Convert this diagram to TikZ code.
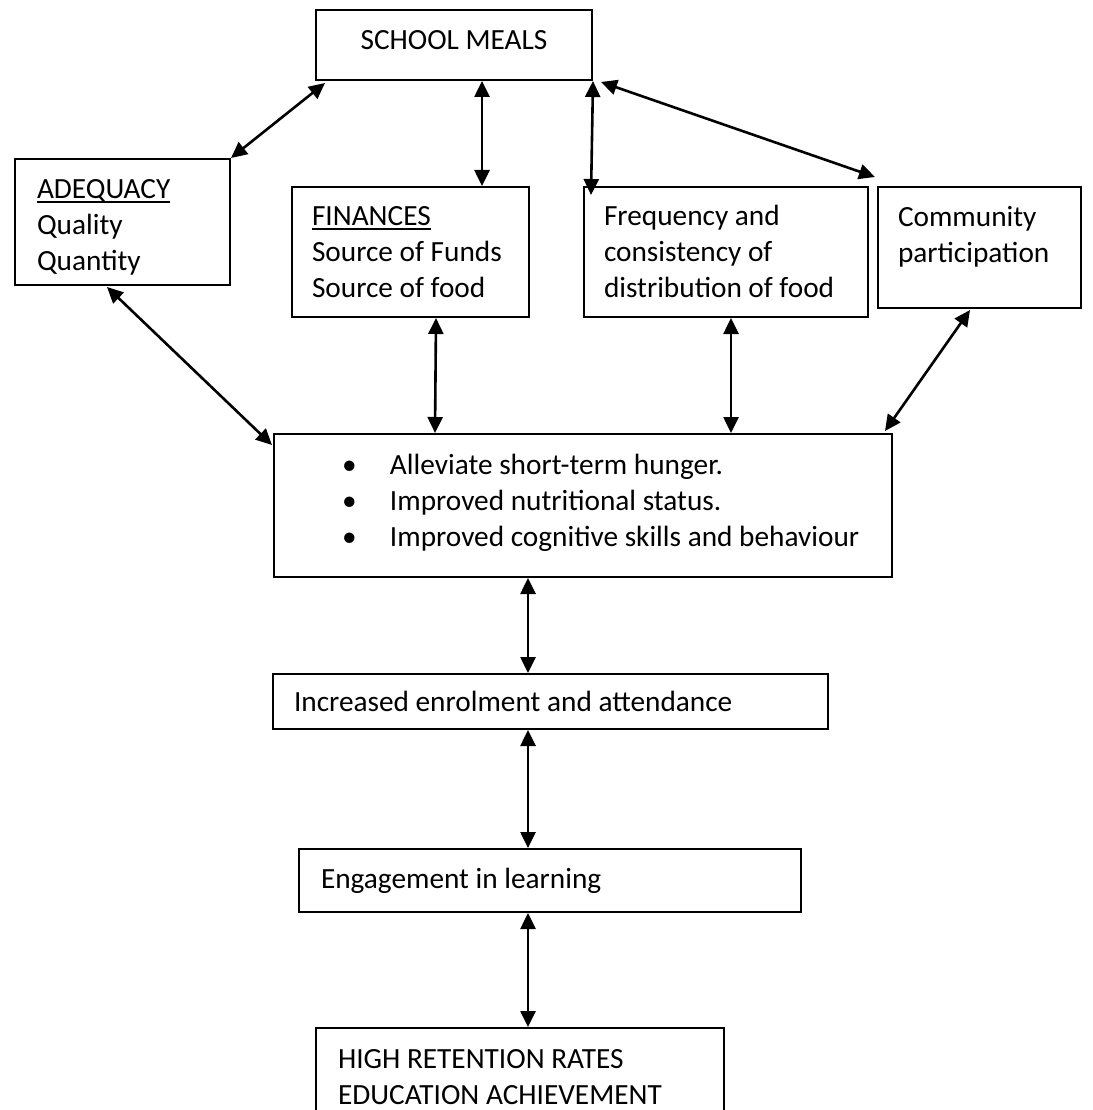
\documentclass[tikz,border=0pt]{standalone}
\usepackage{fontspec}
\setmainfont{Carlito}
\usetikzlibrary{arrows.meta,calc}

\newcommand{\ulbl}[1]{\setbox0\hbox{#1}\rlap{\rule[-4pt]{\wd0}{2pt}}\box0}

\tikzset{
  box/.style={draw, line width=2pt, rectangle, anchor=north west, align=flush left,
    inner xsep=0pt, inner ysep=0pt, font=\fontsize{29.3}{36}\selectfont},
  link/.style={line width=2.6pt, <->},
}

\begin{document}
\begin{tikzpicture}[x=1pt, y=-1pt, >={Triangle[length=16pt,width=15pt]}]
\useasboundingbox (0,0) rectangle (1092,1110);
% top row
\node[box, align=center, minimum width=276pt, minimum height=70pt, text depth=10pt] (meals) at (315,9) {SCHOOL MEALS};
\node[box, minimum width=215pt, minimum height=126pt, text width=171pt, text depth=66pt] (adequacy) at (14,158) {\ulbl{ADEQUACY}\\Quality\\Quantity};
\node[box, minimum width=237pt, minimum height=130pt, text width=197pt, text depth=72pt] (finance) at (291,186) {\ulbl{FINANCES}\\Source of Funds\\Source of food};
\node[box, minimum width=284pt, minimum height=130pt, text width=244pt, text depth=73pt] (freq) at (583,186) {Frequency and\\consistency of\\distribution of food};
\node[box, minimum width=203pt, minimum height=121pt, text width=163pt, text depth=62pt] (community) at (877,186) {Community\\participation};
% middle and chain
\node[box, minimum width=618pt, minimum height=143pt, text width=618pt, text depth=82pt] (middle) at (273,433) {%
  \hspace*{68pt}\makebox[48pt][l]{•}Alleviate short-term hunger.\\
  \hspace*{68pt}\makebox[48pt][l]{•}Improved nutritional status.\\
  \hspace*{68pt}\makebox[48pt][l]{•}Improved cognitive skills and behaviour};
\node[box, minimum width=555pt, minimum height=55pt, text width=513pt] (enrol) at (272,673) {Increased enrolment and attendance};
\node[box, minimum width=502pt, minimum height=63pt, text width=458pt] (engage) at (298,848) {Engagement in learning};
\node[box, minimum width=408pt, minimum height=134pt, text width=364pt, text depth=72pt] (high) at (315,1027) {HIGH RETENTION RATES\\EDUCATION ACHIEVEMENT};
\coordinate (spine) at (528,0);

% links to school meals
\draw[link] ($(meals.south west)+(10,2)$) -- (adequacy.north east);
\draw[link] ($(meals.south)+(28,0)$) -- ($(finance.north)+(71.5,0)$);
\draw[link] (meals.south east) -- ($(freq.north west)+(8,9)$);
\draw[link] ($(meals.south east)+(8,1)$) -- ($(community.north west)+(-2,-9)$);
% links to middle box
\draw[link] ($(adequacy.south west)+(93,1)$) -- ($(middle.north west)+(-1,12)$);
\draw[link] ($(finance.south)+(25.5,0)$) -- ($(middle.north west)+(162,0)$);
\draw[link] ($(freq.south)+(5,0)$) -- ($(middle.north)+(148,0)$);
\draw[link] ($(community.south west)+(93,1)$) -- ($(middle.north east)+(-8,-2)$);
% chain down
\draw[link] (middle.south -| spine) -- (enrol.north -| spine);
\draw[link] (enrol.south -| spine) -- (engage.north -| spine);
\draw[link] (engage.south -| spine) -- (high.north -| spine);
\end{tikzpicture}
\end{document}
